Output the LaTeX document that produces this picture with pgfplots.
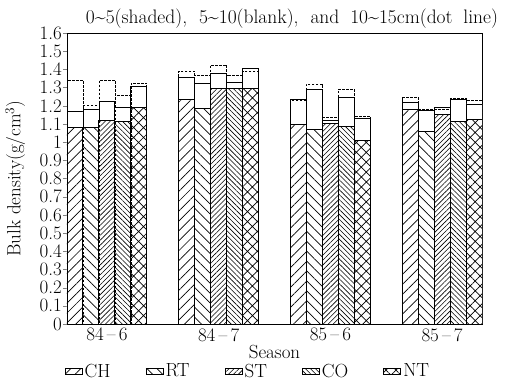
\documentclass[border=0pt]{standalone}
\usepackage{fontspec}
\usepackage{pgfplots}
\pgfplotsset{compat=1.18}
\usepackage{pgfplotstable}
\usetikzlibrary{patterns.meta}

% 0-5 cm (shaded)
\pgfplotstableread{
x CH RT ST CO NT
0 1.08 1.08 1.12 1.115 1.19
1 1.235 1.185 1.295 1.295 1.295
2 1.095 1.07 1.10 1.085 1.01
3 1.18 1.06 1.15 1.115 1.125
}\tlow
% 5-10 cm (blank)
\pgfplotstableread{
x CH RT ST CO NT
0 1.17 1.18 1.225 1.19 1.305
1 1.355 1.325 1.38 1.33 1.405
2 1.235 1.29 1.12 1.245 1.13
3 1.22 1.175 1.19 1.235 1.21
}\tmid
% 10-15 cm (dot line)
\pgfplotstableread{
x CH RT ST CO NT
0 1.34 1.20 1.34 1.26 1.325
1 1.39 1.37 1.425 1.365 1.39
2 1.23 1.32 1.135 1.29 1.14
3 1.245 1.18 1.18 1.24 1.23
}\ttop

\def\bw{0.1429}
\newcommand\trt[3]{%
\addplot[ybar, bar width=\bw, bar shift=#2, draw=black, line width=0.8pt, fill=white, forget plot] table[x=x,y=#1]{\tmid};
\addplot[ybar, bar width=\bw, bar shift=#2, draw=black, line width=0.9pt, fill=white, postaction={pattern={#3}}, area legend] table[x=x,y=#1]{\tlow};
\addlegendentry{#1}
\addplot[ybar, bar width=\bw, bar shift=#2, draw=black, line width=0.6pt, dash pattern=on 2.5pt off 1.5pt, fill=none, forget plot] table[x=x,y=#1]{\ttop};
}

\begin{document}
\begin{tikzpicture}
\path[use as bounding box] (-67pt,-56pt) rectangle (450pt,324pt);
\begin{axis}[
  at={(0,0)}, anchor=south west,
  scale only axis, width=415pt, height=291pt,
  font=\fontsize{19}{22}\selectfont,
  xmin=-0.357, xmax=3.357, ymin=0, ymax=1.6,
  xtick={0,1,2,3},
  xticklabels={84\,--\,6,84\,--\,7,85\,--\,6,85\,--\,7},
  x tick style={draw=none},
  x tick label style={inner sep=1pt, yshift=1pt},
  ytick={0,0.1,0.2,0.3,0.4,0.5,0.6,0.7,0.8,0.9,1,1.1,1.2,1.3,1.4,1.5,1.6},
  ytick pos=left, tick align=outside, major tick length=4pt,
  y tick label style={/pgf/number format/fixed, /pgf/number format/assume math mode=true, inner sep=1pt},
  axis line style={line width=0.8pt},
  xlabel={Season},
  xlabel style={at={(axis description cs:0.5,-0.096)}, anchor=center, inner sep=0pt},
  ylabel={Bulk density(g/cm\textsuperscript{3})},
  ylabel style={at={(axis description cs:-0.125,0.5)}, anchor=center, inner sep=0pt},
  legend style={draw=none, fill=none, at={(axis description cs:0.436,-0.162)}, anchor=center,
    inner sep=0pt,
    legend columns=5, /tikz/every even column/.append style={column sep=33pt},
    font=\fontsize{19}{22}\selectfont},
  legend image code/.code={\draw[#1] (0pt,-5pt) rectangle (22pt,5pt);},
]
\trt{CH}{-0.2857}{Lines[angle=45,distance=7pt,line width=0.7pt]}
\trt{RT}{-0.1429}{Lines[angle=-45,distance=7pt,line width=0.7pt]}
\trt{ST}{0}{Lines[angle=45,distance=3.5pt,line width=0.6pt]}
\trt{CO}{0.1429}{Lines[angle=-45,distance=3.5pt,line width=0.6pt]}
\trt{NT}{0.2857}{Hatch[angle=45,distance=7pt,line width=0.7pt]}
\end{axis}
\node[font=\fontsize{19.5}{22}\selectfont] at (225pt,305pt) {0\textasciitilde5(shaded),\hspace{6pt} 5\textasciitilde10(blank),\hspace{6pt} and\hspace{5pt} 10\textasciitilde15cm(dot\hspace{5pt} line)};
\end{tikzpicture}
\end{document}
